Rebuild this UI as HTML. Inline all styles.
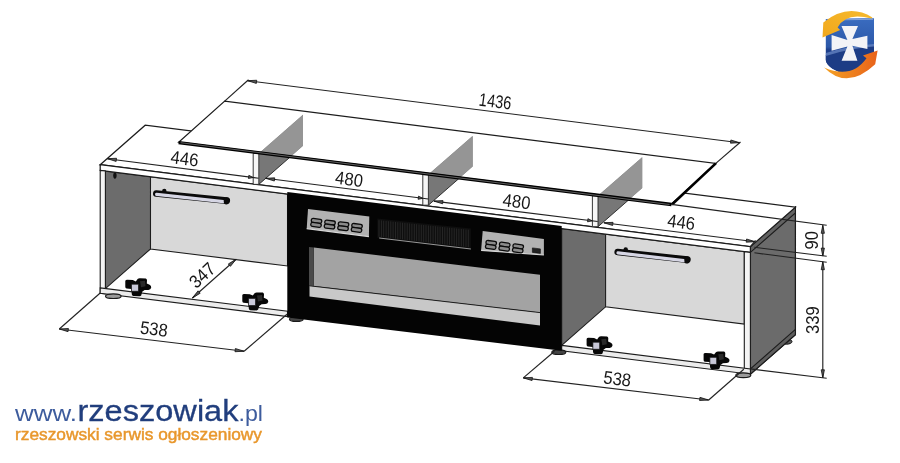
<!DOCTYPE html>
<html><head><meta charset="utf-8"><style>
html,body{margin:0;padding:0;background:#fff;}
body{width:900px;height:463px;overflow:hidden;position:relative;}
svg{position:absolute;left:0;top:0;}
text{font-family:"Liberation Sans",sans-serif;}
</style></head><body>
<svg width="900" height="463" viewBox="0 0 900 463">
<ellipse cx="786.5" cy="341.6" rx="5.5" ry="2.6" fill="#5a5a5a" stroke="#111" stroke-width="1"/>
<polygon points="750.40,246.70 795.40,207.20 795.40,334.70 750.40,374.20" fill="#6b6b6b" stroke="#1c1c1c" stroke-width="1.25"/>
<polygon points="750.40,368.90 795.40,329.40 795.40,334.70 750.40,374.20" fill="#5e5e5e" stroke="#1c1c1c" stroke-width="1.1"/>
<polygon points="750.40,246.70 795.40,207.20 795.40,212.90 750.40,252.40" fill="#626262" stroke="#1c1c1c" stroke-width="1.1"/>
<polygon points="100.20,164.70 145.20,125.20 795.40,207.20 750.40,246.70" fill="#fff" stroke="#1c1c1c" stroke-width="1.25"/>
<polygon points="105.40,171.06 150.50,176.74 150.50,248.96 105.40,288.55" fill="#6c6c6c" stroke="#1c1c1c" stroke-width="1.05"/>
<polygon points="150.50,176.74 287.50,194.02 287.50,266.03 150.50,248.96" fill="#d8d8d8" stroke="#1c1c1c" stroke-width="1.05"/>
<polygon points="561.70,228.60 605.60,234.14 605.60,306.86 561.70,345.39" fill="#6c6c6c" stroke="#1c1c1c" stroke-width="1.05"/>
<polygon points="605.60,234.14 744.30,251.63 744.30,324.14 605.60,306.86" fill="#d8d8d8" stroke="#1c1c1c" stroke-width="1.05"/>
<polygon points="100.20,164.70 750.40,246.70 750.40,252.40 100.20,170.40" fill="#fff" stroke="#1c1c1c" stroke-width="1.25"/>
<polygon points="100.20,170.40 105.40,171.06 105.40,293.85 100.20,293.20" fill="#f4f4f4" stroke="#1c1c1c" stroke-width="1.1"/>
<polygon points="744.30,251.63 750.40,252.40 750.40,374.20 744.30,373.44" fill="#f4f4f4" stroke="#1c1c1c" stroke-width="1.1"/>
<polygon points="100.20,287.90 287.50,311.23 287.50,316.53 100.20,293.20" fill="#ececec" stroke="#1c1c1c" stroke-width="1.1"/>
<polygon points="561.70,345.39 750.40,368.90 750.40,374.20 561.70,350.69" fill="#ececec" stroke="#1c1c1c" stroke-width="1.1"/>
<ellipse cx="113.3" cy="296.2" rx="7.8" ry="2.3" fill="#9a9a9a" stroke="#1a1a1a" stroke-width="1.2"/>
<ellipse cx="296.3" cy="319.2" rx="6.8" ry="2.2" fill="#444" stroke="#1a1a1a" stroke-width="1.2"/>
<ellipse cx="558.8" cy="352.2" rx="7" ry="2.3" fill="#444" stroke="#1a1a1a" stroke-width="1.2"/>
<ellipse cx="743.3" cy="375.2" rx="7.5" ry="2.4" fill="#9a9a9a" stroke="#1a1a1a" stroke-width="1.2"/>
<polygon points="287.30,192.10 561.70,225.90 561.70,350.80 287.30,317.60" fill="#040404"/>
<polygon points="313.80,247.50 540.00,274.80 540.00,312.60 313.80,286.00" fill="#a3a3a3"/>
<polygon points="309.50,285.80 540.00,312.60 540.00,325.50 309.50,296.50" fill="#c8c8c8"/>
<line x1="309.5" y1="285.8" x2="540" y2="312.6" stroke="#111" stroke-width="0.9"/>
<polygon points="309.00,247.00 313.80,247.50 313.80,286.00 309.00,285.50" fill="#4a4a4a"/>
<polygon points="308.00,209.00 369.30,216.60 368.90,236.60 306.70,228.60" fill="#b2b2b2"/>
<line x1="306.7" y1="228.6" x2="368.9" y2="236.6" stroke="#d8d8d8" stroke-width="1.2"/>
<g transform="translate(311.00,217.87) rotate(7.2)"><rect x="0.6" y="0.3" width="10.5" height="4" rx="1.8" fill="#8a8a8a" stroke="#0a0a0a" stroke-width="1.3"/><rect x="0.6" y="4.3" width="10.5" height="4" rx="1.8" fill="#8a8a8a" stroke="#0a0a0a" stroke-width="1.3"/></g>
<g transform="translate(324.50,219.55) rotate(7.2)"><rect x="0.6" y="0.3" width="10.5" height="4" rx="1.8" fill="#8a8a8a" stroke="#0a0a0a" stroke-width="1.3"/><rect x="0.6" y="4.3" width="10.5" height="4" rx="1.8" fill="#8a8a8a" stroke="#0a0a0a" stroke-width="1.3"/></g>
<g transform="translate(338.00,221.22) rotate(7.2)"><rect x="0.6" y="0.3" width="10.5" height="4" rx="1.8" fill="#8a8a8a" stroke="#0a0a0a" stroke-width="1.3"/><rect x="0.6" y="4.3" width="10.5" height="4" rx="1.8" fill="#8a8a8a" stroke="#0a0a0a" stroke-width="1.3"/></g>
<g transform="translate(351.50,222.89) rotate(7.2)"><rect x="0.6" y="0.3" width="10.5" height="4" rx="1.8" fill="#8a8a8a" stroke="#0a0a0a" stroke-width="1.3"/><rect x="0.6" y="4.3" width="10.5" height="4" rx="1.8" fill="#8a8a8a" stroke="#0a0a0a" stroke-width="1.3"/></g>
<polygon points="482.70,231.00 543.90,238.90 543.90,255.00 481.10,250.40" fill="#b2b2b2"/>
<line x1="481.1" y1="250.4" x2="543.9" y2="255.0" stroke="#d8d8d8" stroke-width="1.2"/>
<g transform="translate(485.70,239.89) rotate(7.2)"><rect x="0.6" y="0.3" width="10.5" height="4" rx="1.8" fill="#8a8a8a" stroke="#0a0a0a" stroke-width="1.3"/><rect x="0.6" y="4.3" width="10.5" height="4" rx="1.8" fill="#8a8a8a" stroke="#0a0a0a" stroke-width="1.3"/></g>
<g transform="translate(499.20,241.63) rotate(7.2)"><rect x="0.6" y="0.3" width="10.5" height="4" rx="1.8" fill="#8a8a8a" stroke="#0a0a0a" stroke-width="1.3"/><rect x="0.6" y="4.3" width="10.5" height="4" rx="1.8" fill="#8a8a8a" stroke="#0a0a0a" stroke-width="1.3"/></g>
<g transform="translate(512.70,243.37) rotate(7.2)"><rect x="0.6" y="0.3" width="10.5" height="4" rx="1.8" fill="#8a8a8a" stroke="#0a0a0a" stroke-width="1.3"/><rect x="0.6" y="4.3" width="10.5" height="4" rx="1.8" fill="#8a8a8a" stroke="#0a0a0a" stroke-width="1.3"/></g>
<polygon points="532.40,247.90 540.40,248.90 540.40,253.40 532.40,252.40" fill="#222" stroke="#0a0a0a" stroke-width="0.6"/>
<polygon points="377.30,218.60 470.90,228.60 470.90,249.00 377.30,238.00" fill="#0e0e0e"/>
<path d="M379.0 220.2V236.7 M381.4 220.4V237.0 M383.7 220.7V237.2 M386.1 220.9V237.5 M388.4 221.2V237.8 M390.8 221.4V238.1 M393.1 221.7V238.3 M395.5 221.9V238.6 M397.8 222.2V238.9 M400.2 222.4V239.2 M402.5 222.7V239.4 M404.9 222.9V239.7 M407.2 223.2V240.0 M409.6 223.5V240.3 M411.9 223.7V240.5 M414.3 224.0V240.8 M416.6 224.2V241.1 M419.0 224.5V241.4 M421.3 224.7V241.6 M423.7 225.0V241.9 M426.0 225.2V242.2 M428.4 225.5V242.5 M430.7 225.7V242.7 M433.1 226.0V243.0 M435.4 226.2V243.3 M437.8 226.5V243.6 M440.1 226.7V243.8 M442.5 227.0V244.1 M444.8 227.2V244.4 M447.2 227.5V244.7 M449.5 227.7V244.9 M451.9 228.0V245.2 M454.2 228.2V245.5 M456.6 228.5V245.8 M458.9 228.7V246.0 M461.3 229.0V246.3 M463.6 229.2V246.6 M466.0 229.5V246.9 M468.3 229.7V247.1" stroke="#2c2c2c" stroke-width="0.8"/>
<line x1="379.2" y1="238" x2="470.9" y2="249" stroke="#a8a8a8" stroke-width="0.9"/>
<line x1="156.3" y1="193.5" x2="226.8" y2="200.6" stroke="#0a0a0a" stroke-width="6.6" stroke-linecap="round"/>
<line x1="156.60000000000002" y1="194.4" x2="223.3" y2="201.6" stroke="#d6d6e4" stroke-width="3.2" stroke-linecap="round"/>
<circle cx="164.3" cy="190.9" r="2.2" fill="#0c0c0c"/>
<ellipse cx="226.3" cy="200.9" rx="2.6" ry="3.6" fill="#0a0a0a"/>
<line x1="617.7" y1="252.0" x2="687.4" y2="259.6" stroke="#0a0a0a" stroke-width="6.6" stroke-linecap="round"/>
<line x1="618.0" y1="252.9" x2="683.9" y2="260.6" stroke="#d6d6e4" stroke-width="3.2" stroke-linecap="round"/>
<circle cx="625.7" cy="249.4" r="2.2" fill="#0c0c0c"/>
<ellipse cx="686.9" cy="259.90000000000003" rx="2.6" ry="3.6" fill="#0a0a0a"/>
<ellipse cx="114.9" cy="175.6" rx="1.7" ry="3.1" fill="#111"/>
<g transform="translate(125,278.2)"><path d="M0.3 2.8 Q0.5 1.5 2.5 1.6 L7.8 1.9 L10.8 3.2 L12.6 0.9 Q13.5 0 15 0.1 L20.8 0.2 Q22 0.6 22 2 L21.8 5.4 L24.6 6.6 Q26.5 7.6 26.2 9.6 Q25.6 11.6 23.4 11.7 L19.6 11.9 L17.2 13.6 L16.2 17.2 Q15.6 18 14.5 18 L8.4 17.9 Q7 17.6 6.8 16 L6.4 10.8 L1.6 10.4 Q0.3 10 0.3 8.6 Z" fill="#070707"/><path d="M15 3 L20 2.5 L20.5 8 L16 9 Z" fill="#2a2a2a"/><rect x="6.6" y="6.0" width="6.8" height="7.0" fill="#c8c8d8" stroke="#1a1a1a" stroke-width="0.7"/></g>
<g transform="translate(242,292.4)"><path d="M0.3 2.8 Q0.5 1.5 2.5 1.6 L7.8 1.9 L10.8 3.2 L12.6 0.9 Q13.5 0 15 0.1 L20.8 0.2 Q22 0.6 22 2 L21.8 5.4 L24.6 6.6 Q26.5 7.6 26.2 9.6 Q25.6 11.6 23.4 11.7 L19.6 11.9 L17.2 13.6 L16.2 17.2 Q15.6 18 14.5 18 L8.4 17.9 Q7 17.6 6.8 16 L6.4 10.8 L1.6 10.4 Q0.3 10 0.3 8.6 Z" fill="#070707"/><path d="M15 3 L20 2.5 L20.5 8 L16 9 Z" fill="#2a2a2a"/><rect x="6.6" y="6.0" width="6.8" height="7.0" fill="#c8c8d8" stroke="#1a1a1a" stroke-width="0.7"/></g>
<g transform="translate(586.3,336.2)"><path d="M0.3 2.8 Q0.5 1.5 2.5 1.6 L7.8 1.9 L10.8 3.2 L12.6 0.9 Q13.5 0 15 0.1 L20.8 0.2 Q22 0.6 22 2 L21.8 5.4 L24.6 6.6 Q26.5 7.6 26.2 9.6 Q25.6 11.6 23.4 11.7 L19.6 11.9 L17.2 13.6 L16.2 17.2 Q15.6 18 14.5 18 L8.4 17.9 Q7 17.6 6.8 16 L6.4 10.8 L1.6 10.4 Q0.3 10 0.3 8.6 Z" fill="#070707"/><path d="M15 3 L20 2.5 L20.5 8 L16 9 Z" fill="#2a2a2a"/><rect x="6.6" y="6.0" width="6.8" height="7.0" fill="#c8c8d8" stroke="#1a1a1a" stroke-width="0.7"/></g>
<g transform="translate(703.3,351.3)"><path d="M0.3 2.8 Q0.5 1.5 2.5 1.6 L7.8 1.9 L10.8 3.2 L12.6 0.9 Q13.5 0 15 0.1 L20.8 0.2 Q22 0.6 22 2 L21.8 5.4 L24.6 6.6 Q26.5 7.6 26.2 9.6 Q25.6 11.6 23.4 11.7 L19.6 11.9 L17.2 13.6 L16.2 17.2 Q15.6 18 14.5 18 L8.4 17.9 Q7 17.6 6.8 16 L6.4 10.8 L1.6 10.4 Q0.3 10 0.3 8.6 Z" fill="#070707"/><path d="M15 3 L20 2.5 L20.5 8 L16 9 Z" fill="#2a2a2a"/><rect x="6.6" y="6.0" width="6.8" height="7.0" fill="#c8c8d8" stroke="#1a1a1a" stroke-width="0.7"/></g>
<mask id="noglass" maskUnits="userSpaceOnUse" x="0" y="0" width="900" height="463"><rect width="900" height="463" fill="#fff"/><polygon points="178.60,142.20 671.50,204.00 715.80,163.40 224.70,101.10" fill="#000"/></mask>
<clipPath id="glassclip"><polygon points="178.60,142.20 671.50,204.00 715.80,163.40 224.70,101.10"/></clipPath>
<polygon points="178.60,142.20 671.50,204.00 715.80,163.40 224.70,101.10" fill="#fff"/>
<polygon points="258.80,153.40 303.00,114.80 303.00,145.80 258.80,184.40" fill="#777"/>
<polygon points="258.80,153.40 303.00,114.80 303.00,145.80 258.80,184.40" fill="#959595" clip-path="url(#glassclip)"/>
<line x1="258.8" y1="184.4" x2="303.0" y2="145.8" stroke="#222" stroke-width="0.9" mask="url(#noglass)"/>
<polygon points="253.20,153.40 258.80,153.40 258.80,184.40 253.20,184.40" fill="#f6f6f6" stroke="#222" stroke-width="0.9"/>
<polygon points="428.40,174.60 472.60,136.00 472.60,166.60 428.40,205.20" fill="#777"/>
<polygon points="428.40,174.60 472.60,136.00 472.60,166.60 428.40,205.20" fill="#959595" clip-path="url(#glassclip)"/>
<line x1="428.40000000000003" y1="205.2" x2="472.6" y2="166.6" stroke="#222" stroke-width="0.9" mask="url(#noglass)"/>
<polygon points="422.80,174.60 428.40,174.60 428.40,205.20 422.80,205.20" fill="#f6f6f6" stroke="#222" stroke-width="0.9"/>
<polygon points="598.00,195.80 642.20,157.20 642.20,188.10 598.00,226.70" fill="#777"/>
<polygon points="598.00,195.80 642.20,157.20 642.20,188.10 598.00,226.70" fill="#959595" clip-path="url(#glassclip)"/>
<line x1="598.0" y1="226.7" x2="642.2" y2="188.1" stroke="#222" stroke-width="0.9" mask="url(#noglass)"/>
<polygon points="592.40,195.80 598.00,195.80 598.00,226.70 592.40,226.70" fill="#f6f6f6" stroke="#222" stroke-width="0.9"/>
<polygon points="178.60,142.20 671.50,204.00 715.80,163.40 224.70,101.10" fill="none" stroke="#1c1c1c" stroke-width="1.25"/>
<line x1="178.6" y1="142.7" x2="671.5" y2="204.5" stroke="#000" stroke-width="3.3"/>
<line x1="180.6" y1="142.7" x2="669.5" y2="204.5" stroke="#777" stroke-width="0.8"/>
<line x1="672.0" y1="204.5" x2="715.8" y2="163.4" stroke="#000" stroke-width="2.6"/>
<line x1="247.60" y1="80.70" x2="739.60" y2="142.70" stroke="#222" stroke-width="1.15"/>
<polygon points="247.60,80.70 256.33,83.41 256.73,80.24" fill="#555" stroke="#111" stroke-width="0.8" stroke-linejoin="round"/>
<polygon points="739.60,142.70 730.87,139.99 730.47,143.16" fill="#555" stroke="#111" stroke-width="0.8" stroke-linejoin="round"/>
<line x1="224.70" y1="101.10" x2="248.50" y2="79.80" stroke="#222" stroke-width="1.15"/>
<line x1="715.80" y1="163.40" x2="740.50" y2="142.00" stroke="#222" stroke-width="1.15"/>
<line x1="107.40" y1="158.70" x2="258.60" y2="178.21" stroke="#222" stroke-width="1.15"/>
<polygon points="107.40,158.70 116.12,161.44 116.53,158.26" fill="#555" stroke="#111" stroke-width="0.8" stroke-linejoin="round"/>
<polygon points="253.10,177.50 248.84,175.34 248.43,178.51" fill="#555" stroke="#111" stroke-width="0.8" stroke-linejoin="round"/>
<line x1="265.60" y1="178.30" x2="428.30" y2="199.00" stroke="#222" stroke-width="1.15"/>
<polygon points="265.60,178.30 274.33,181.02 274.73,177.85" fill="#555" stroke="#111" stroke-width="0.8" stroke-linejoin="round"/>
<polygon points="422.80,198.30 418.54,196.14 418.13,199.32" fill="#555" stroke="#111" stroke-width="0.8" stroke-linejoin="round"/>
<line x1="433.90" y1="201.10" x2="597.70" y2="221.48" stroke="#222" stroke-width="1.15"/>
<polygon points="433.90,201.10 442.63,203.80 443.03,200.62" fill="#555" stroke="#111" stroke-width="0.8" stroke-linejoin="round"/>
<polygon points="592.20,220.80 587.93,218.66 587.54,221.83" fill="#555" stroke="#111" stroke-width="0.8" stroke-linejoin="round"/>
<line x1="603.90" y1="222.80" x2="755.30" y2="241.70" stroke="#222" stroke-width="1.15"/>
<polygon points="603.90,222.80 612.63,225.50 613.03,222.33" fill="#555" stroke="#111" stroke-width="0.8" stroke-linejoin="round"/>
<polygon points="755.30,241.70 746.57,239.00 746.17,242.17" fill="#555" stroke="#111" stroke-width="0.8" stroke-linejoin="round"/>
<line x1="750.40" y1="246.70" x2="755.50" y2="240.30" stroke="#222" stroke-width="1.15"/>
<line x1="59.30" y1="329.00" x2="244.10" y2="351.20" stroke="#222" stroke-width="1.15"/>
<polygon points="59.30,329.00 68.04,331.66 68.43,328.48" fill="#555" stroke="#111" stroke-width="0.8" stroke-linejoin="round"/>
<polygon points="244.10,351.20 235.36,348.54 234.97,351.72" fill="#555" stroke="#111" stroke-width="0.8" stroke-linejoin="round"/>
<line x1="59.30" y1="329.00" x2="100.20" y2="293.00" stroke="#222" stroke-width="1.15"/>
<line x1="244.10" y1="351.20" x2="287.00" y2="314.20" stroke="#222" stroke-width="1.15"/>
<line x1="523.30" y1="377.90" x2="708.70" y2="400.00" stroke="#222" stroke-width="1.15"/>
<polygon points="523.30,377.90 532.05,380.55 532.43,377.38" fill="#555" stroke="#111" stroke-width="0.8" stroke-linejoin="round"/>
<polygon points="708.70,400.00 699.95,397.35 699.57,400.52" fill="#555" stroke="#111" stroke-width="0.8" stroke-linejoin="round"/>
<line x1="523.30" y1="377.90" x2="554.50" y2="351.20" stroke="#222" stroke-width="1.15"/>
<line x1="708.70" y1="400.00" x2="743.80" y2="369.30" stroke="#222" stroke-width="1.15"/>
<line x1="236.10" y1="259.20" x2="192.40" y2="298.00" stroke="#222" stroke-width="1.15"/>
<polygon points="236.10,259.20 228.31,263.98 230.43,266.37" fill="#555" stroke="#111" stroke-width="0.8" stroke-linejoin="round"/>
<polygon points="192.40,298.00 200.19,293.22 198.07,290.83" fill="#555" stroke="#111" stroke-width="0.8" stroke-linejoin="round"/>
<line x1="822.80" y1="225.30" x2="822.80" y2="256.10" stroke="#222" stroke-width="1.15"/>
<polygon points="822.80,225.30 821.20,233.30 824.40,233.30" fill="#555" stroke="#111" stroke-width="0.8" stroke-linejoin="round"/>
<polygon points="822.80,256.10 824.40,248.10 821.20,248.10" fill="#555" stroke="#111" stroke-width="0.8" stroke-linejoin="round"/>
<line x1="822.80" y1="261.70" x2="822.80" y2="377.80" stroke="#222" stroke-width="1.15"/>
<polygon points="822.80,261.70 821.20,269.70 824.40,269.70" fill="#555" stroke="#111" stroke-width="0.8" stroke-linejoin="round"/>
<polygon points="822.80,377.80 824.40,369.80 821.20,369.80" fill="#555" stroke="#111" stroke-width="0.8" stroke-linejoin="round"/>
<line x1="671.50" y1="204.40" x2="826.70" y2="225.30" stroke="#222" stroke-width="1.15"/>
<line x1="754.40" y1="247.30" x2="826.70" y2="256.20" stroke="#222" stroke-width="1.15"/>
<line x1="754.40" y1="252.80" x2="826.70" y2="262.20" stroke="#222" stroke-width="1.15"/>
<line x1="750.40" y1="368.90" x2="826.70" y2="378.20" stroke="#222" stroke-width="1.15"/>
<text opacity="0.99" transform="translate(494.5 107.5) rotate(7.3) scale(0.8 1)" font-size="18.3" text-anchor="middle" fill="#151515">1436</text>
<text opacity="0.99" transform="translate(183.8 164.8) rotate(7.3) scale(0.91 1)" font-size="18.3" text-anchor="middle" fill="#151515">446</text>
<text opacity="0.99" transform="translate(348.3 185.3) rotate(7.3) scale(0.91 1)" font-size="18.3" text-anchor="middle" fill="#151515">480</text>
<text opacity="0.99" transform="translate(515.8 207.7) rotate(7.3) scale(0.91 1)" font-size="18.3" text-anchor="middle" fill="#151515">480</text>
<text opacity="0.99" transform="translate(680.5 228.3) rotate(7.3) scale(0.91 1)" font-size="18.3" text-anchor="middle" fill="#151515">446</text>
<text opacity="0.99" transform="translate(153.2 335.2) rotate(7.3) scale(0.91 1)" font-size="18.3" text-anchor="middle" fill="#151515">538</text>
<text opacity="0.99" transform="translate(616.5 385) rotate(7.3) scale(0.91 1)" font-size="18.3" text-anchor="middle" fill="#151515">538</text>
<text opacity="0.99" transform="translate(206.5 279.8) rotate(-43) scale(0.91 1)" font-size="18.3" text-anchor="middle" fill="#151515">347</text>
<text opacity="0.99" transform="translate(817.5 240.3) rotate(-90) scale(0.91 1)" font-size="18.3" text-anchor="middle" fill="#151515">90</text>
<text opacity="0.99" transform="translate(818.5 320) rotate(-90) scale(0.91 1)" font-size="18.3" text-anchor="middle" fill="#151515">339</text>
<defs>
<linearGradient id="sh" x1="0" y1="0" x2="0" y2="1">
<stop offset="0" stop-color="#3a6cc0"/><stop offset="0.5" stop-color="#2c58a8"/><stop offset="0.55" stop-color="#1d3f8c"/><stop offset="1" stop-color="#1a3580"/></linearGradient>
<linearGradient id="ar1" x1="0" y1="1" x2="1" y2="0"><stop offset="0" stop-color="#f1a81c"/><stop offset="1" stop-color="#f6b92d"/></linearGradient>
<linearGradient id="ar2" x1="0" y1="0" x2="1" y2="0"><stop offset="0" stop-color="#f4a224"/><stop offset="1" stop-color="#e8621a"/></linearGradient>
</defs>
<path d="M825.8 19.1 Q850 18 874 18.3 L874 53.2 Q873 68 849.9 75.5 Q826.5 69 825.8 59.9 Z" fill="url(#sh)"/>
<path d="M825.8 55 Q850 47 874 45.5 L874 53.2 Q873 68 849.9 75.5 Q826.5 69 825.8 59.9 Z" fill="#1d3c85"/>
<path d="M825.8 53 Q850 45.5 874 44 L874 46.5 Q850 48 825.8 56 Z" fill="#6d8cc8" opacity="0.7"/>
<path d="M826.8 20 L873 19.3" stroke="#b8c8e8" stroke-width="1" opacity="0.6"/>
<path d="M841.5 26.0 L858.0 26.0 L852.4 39.1 L867.4 35.8 L867.4 49.1 L852.4 45.7 L857.4 60.7 L841.6 60.7 L847.4 46.6 L831.6 50.7 L831.6 34.9 L847.4 39.9 Z" fill="#f3f3f7"/>
<path d="M872.4 17.5 Q848.2 2.6 823.3 22.5 L822.5 37.6 L840.2 30 L837.6 27.5 Q846 11.5 871.5 18.6 Z" fill="url(#ar1)"/>
<path d="M824.1 67.4 Q847.1 90.7 875.2 64.2 L877.6 50.5 L863 55.6 L866.5 58.2 Q851.3 79.5 824.1 67.4 Z" fill="url(#ar2)"/>
<text opacity="0.99" x="15" y="420.7" font-size="22.5" fill="#3b5b9c" textLength="62" lengthAdjust="spacingAndGlyphs">www.</text>
<text opacity="0.99" x="77.5" y="421.2" font-size="29" fill="#1f3c7c" stroke="#1f3c7c" stroke-width="0.3" textLength="161" lengthAdjust="spacingAndGlyphs">rzeszowiak</text>
<text opacity="0.99" x="238.5" y="420.7" font-size="22.5" fill="#3b5b9c" textLength="24.5" lengthAdjust="spacingAndGlyphs">.pl</text>
<text opacity="0.99" x="15" y="439.7" font-size="16.6" fill="#e8962a" stroke="#e8962a" stroke-width="0.45" textLength="247" lengthAdjust="spacingAndGlyphs">rzeszowski serwis ogłoszeniowy</text>
</svg>
</body></html>
